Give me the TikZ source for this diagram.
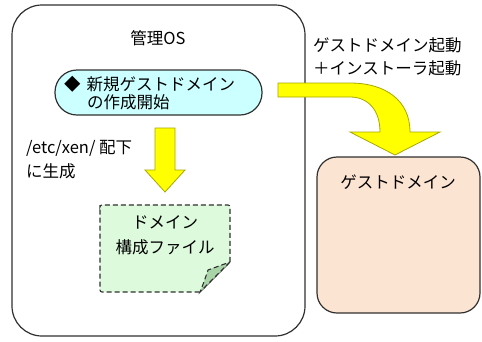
\documentclass[tikz,border=0pt]{standalone}
\usepackage{fontspec}
\setmainfont{Noto Sans CJK JP}
\usetikzlibrary{shapes.misc}
\definecolor{pillfill}{HTML}{CCFFFF}
\definecolor{docfill}{HTML}{DDFADD}
\definecolor{foldfill}{HTML}{A8D4A8}
\definecolor{guestfill}{HTML}{FCE4D2}
\definecolor{arrowfill}{HTML}{FFFF00}
\definecolor{arrowline}{HTML}{A8A800}
\definecolor{edge}{HTML}{303030}
\tikzset{
  box/.style={draw=edge, line width=1.2pt, rectangle, inner sep=0pt},
  lbl/.style={font=\fontsize{16.5}{23}\selectfont, text=black, inner sep=0pt},
  bigarrow/.style={fill=arrowfill, draw=arrowline, line width=0.8pt, line join=miter},
}
\begin{document}
\begin{tikzpicture}[x=1pt,y=-1pt]
\useasboundingbox (0,0) rectangle (482,341);
% main OS box
\node[box, rounded corners=30pt, minimum width=293pt, minimum height=331pt] (os) at (158.5,170.5) {};
\node[lbl] (ostitle) at (158,38) {管理OS};
% pill
\node[box, fill=pillfill, rounded corners=22pt, minimum width=207pt, minimum height=45pt] (pill) at (158.5,92.5) {};
\node[lbl, anchor=west, align=left, font=\fontsize{16.5}{18}\selectfont] (pilltext) at (64,93) {◆\hspace{6pt}新規ゲストドメイン\\\hspace{23pt}の作成開始};
% down arrow
\path[bigarrow] (155,128) -- (175,128) -- (175,170) -- (185,170) -- (165,192) -- (145,170) -- (155,170) -- cycle;
\node[lbl, anchor=west, align=left, font=\fontsize{16.5}{24}\selectfont] (etc) at (26,160) {/etc/xen/ 配下\\に生成};
% document
\path[fill=docfill, draw=edge, line width=1.1pt, dashed, dash pattern=on 5pt off 3pt]
  (100,207) [rounded corners=2pt]-- (100,205) -- (230,205) [sharp corners]-- (230,262) -- (200,292) [rounded corners=2pt]-- (100,292) -- cycle;
\path[fill=foldfill, draw=edge, line width=1.1pt, dashed, dash pattern=on 5pt off 3pt]
  (230,262) -- (200,292) .. controls (204,282) .. (208,270) -- cycle;
\node[lbl, align=center, font=\fontsize{16.5}{25}\selectfont] (doc) at (165,235) {ドメイン\\構成ファイル};
% guest domain
\node[box, fill=guestfill, rounded corners=20pt, minimum width=163pt, minimum height=156pt] (guest) at (398.5,235) {};
\node[lbl] (guesttitle) at (398,182) {ゲストドメイン};
\node[lbl, anchor=west, align=left] (boot) at (313,56.5) {ゲストドメイン起動\\＋インストーラ起動};
% curved arrow
\path[bigarrow] (278,83) -- (350,83) .. controls (385,83) and (410,100) .. (410,132)
  -- (440,132) -- (395,155) -- (350,132) -- (380,132)
  .. controls (380,110) and (368,97) .. (350,97) -- (278,97) -- cycle;
\end{tikzpicture}
\end{document}
